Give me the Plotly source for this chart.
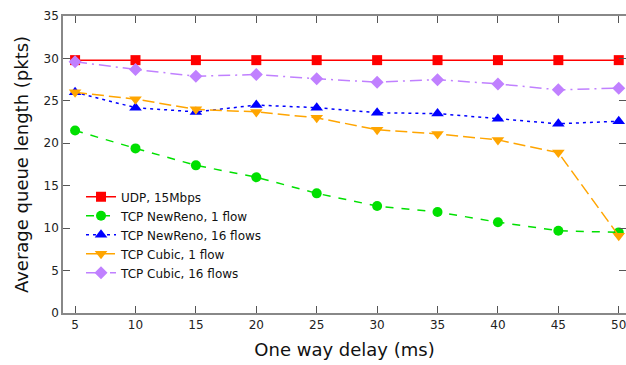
import plotly.graph_objects as go

delays = [5, 10, 15, 20, 25, 30, 35, 40, 45, 50]
udp = [29.8, 29.8, 29.8, 29.8, 29.8, 29.8, 29.8, 29.8, 29.8, 29.8]
newreno_1 = [21.5, 19.4, 17.4, 16.0, 14.1, 12.6, 11.9, 10.7, 9.7, 9.5]
newreno_16 = [26.0, 24.2, 23.7, 24.5, 24.2, 23.6, 23.5, 22.9, 22.3, 22.6]
cubic_1 = [26.0, 25.2, 24.0, 23.7, 23.0, 21.6, 21.1, 20.4, 18.9, 9.1]
cubic_16 = [29.6, 28.7, 27.9, 28.1, 27.6, 27.2, 27.5, 27.0, 26.3, 26.5]

names = ["UDP, 15Mbps", "TCP NewReno, 1 flow", "TCP NewReno, 16 flows",
         "TCP Cubic, 1 flow", "TCP Cubic, 16 flows"]
series = [udp, newreno_1, newreno_16, cubic_1, cubic_16]
colors = ["#ff0000", "#00e000", "#0000ff", "#ffa500", "#c080ff"]
symbols = ["square", "circle", "triangle-up", "triangle-down", "diamond"]
dashes = ["solid", "8px,8px", "3px,4px", "12px,5px", "12px,5px,2px,5px"]
msizes = [10, 10, 11, 11, 10]

fig = go.Figure()
for n, s, c, sym, d, ms in zip(names, series, colors, symbols, dashes, msizes):
    fig.add_trace(go.Scatter(
        x=delays, y=s, name=n, mode="lines+markers",
        line=dict(color=c, width=1.5, dash=d),
        marker=dict(symbol=sym, size=ms, color=c),
        cliponaxis=False,
    ))

font = "DejaVu Sans"
axis_common = dict(
    showline=True, linecolor="#888888", linewidth=1.5, mirror="ticks",
    ticks="inside", ticklen=7, tickcolor="#555555", tickwidth=1,
    showgrid=False, zeroline=False, automargin=False,
    tickfont=dict(family=font, size=12, color="#222222"),
)
fig.update_xaxes(range=[4, 50.6], tickvals=delays,
                 title=dict(text="One way delay (ms)", font=dict(family=font, size=18, color="#111111"), standoff=12),
                 **axis_common)
fig.update_yaxes(range=[0, 35], dtick=5,
                 title=dict(text="Average queue length (pkts)", font=dict(family=font, size=18, color="#111111"), standoff=10),
                 **axis_common)
fig.update_layout(
    width=640, height=365,
    margin=dict(l=63, r=14, t=16, b=52),
    plot_bgcolor="white", paper_bgcolor="white",
    legend=dict(x=0.032, y=0.44, xanchor="left", yanchor="top",
                bgcolor="rgba(0,0,0,0)", font=dict(family=font, size=12, color="#111111"),
                tracegroupgap=0, itemwidth=30),
    showlegend=True,
)
fig.write_html("out.html", config={"displayModeBar": False},
               post_script="document.body.style.margin='0';document.body.style.overflow='hidden';")
